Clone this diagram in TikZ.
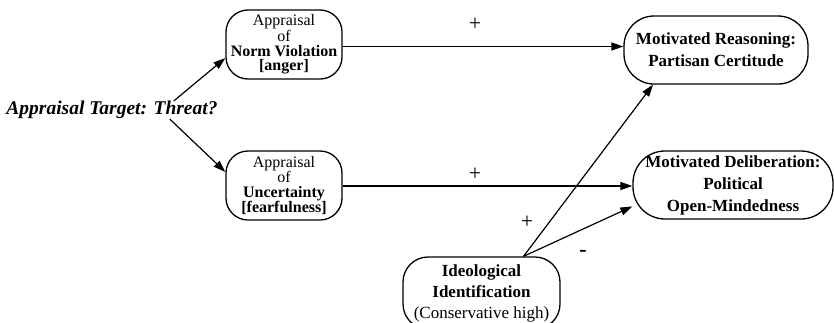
\documentclass[tikz,border=0pt]{standalone}
\usepackage{fontspec}
\setmainfont{Liberation Serif}
\usetikzlibrary{arrows.meta}
\tikzset{
    appraisal-box/.style = {draw, line width=1.3pt, rectangle, rounded corners=22pt, minimum width=116pt, minimum height=69pt, inner sep=0pt, align=center, font=\fontsize{16}{14.5}\selectfont},
    outcome-box/.style = {draw, line width=1.3pt, rectangle, rounded corners=30pt, minimum height=68pt, inner sep=0pt, align=center, font=\fontsize{17}{22}\selectfont\bfseries},
    sign-label/.style = {font=\fontsize{22}{22}\selectfont, inner sep=0pt},
    link/.style = {-{Triangle[length=12pt,width=8pt]}, line width=1.2pt},
}
\begin{document}
\begin{tikzpicture}[x=1pt, y=-1pt]
\clip (0,0) rectangle (834,322);
\fill[white] (0,0) rectangle (834,322);
% appraisal side
\node[font=\fontsize{19.5}{19.5}\selectfont\bfseries\itshape, inner sep=0pt] (target) at (112,110) {Appraisal Target: Threat?};
\node[appraisal-box] (norm) at (284,44.5) {Appraisal\\of\\\textbf{Norm Violation}\\\textbf{[anger]}};
\node[appraisal-box] (uncert) at (284,185.5) {Appraisal\\of\\\textbf{Uncertainty}\\\textbf{[fearfulness]}};
% outcomes
\node[outcome-box, minimum width=184pt] (reason) at (716,50) {Motivated Reasoning:\\Partisan Certitude};
\node[outcome-box, minimum width=200pt, rounded corners=32pt] (delib) at (733,185) {Motivated Deliberation:\\Political\\Open-Mindedness};
\node[outcome-box, minimum width=157pt, minimum height=72pt, rounded corners=25pt, font=\fontsize{17}{21}\selectfont] (ideo) at (481.5,293) {\textbf{Ideological}\\\textbf{Identification}\\(Conservative high)};
% links
\draw[link] ([xshift=-44pt]target.north east) -- (norm.193);
\draw[link] ([xshift=-48pt]target.south east) -- (uncert.167);
\draw[link] ([yshift=-2pt]norm.east) -- ([yshift=-2pt]norm.east -| reason.west);
\draw[link] ([yshift=-0.5pt]uncert.east) -- ([yshift=-0.5pt]uncert.east -| delib.west);
\draw[link] ([xshift=42pt]ideo.north) -- ([xshift=-63pt]reason.south);
\draw[link] ([xshift=42pt]ideo.north) -- (delib.192);
% signs
\node[sign-label] (plus-norm) at (475,24) {+};
\node[sign-label] (plus-uncert) at (475,174) {+};
\node[sign-label] (plus-ideo) at (527,222) {+};
\node[sign-label, font=\fontsize{22}{22}\selectfont\bfseries] (minus-ideo) at (583,253) {-};
\end{tikzpicture}
\end{document}
